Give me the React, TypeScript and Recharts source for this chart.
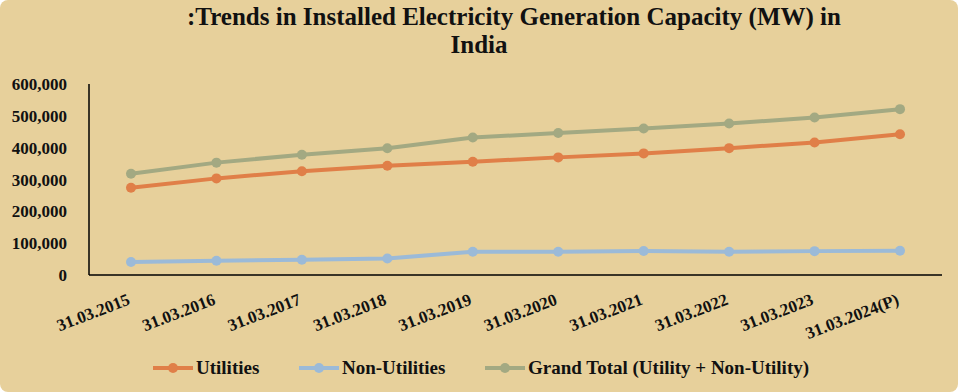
import React from 'react'
import { LineChart, Line, XAxis, YAxis } from 'recharts'

const years = [
  '31.03.2015', '31.03.2016', '31.03.2017', '31.03.2018', '31.03.2019',
  '31.03.2020', '31.03.2021', '31.03.2022', '31.03.2023', '31.03.2024(P)',
]
const utilities = [274000, 303500, 326000, 343000, 356000, 369500, 382000, 398500, 416000, 442000]
const nonUtilities = [41000, 45000, 48000, 52000, 73000, 73000, 75500, 73000, 75000, 76000]
const grandTotal = [318000, 353000, 378000, 398000, 432000, 446000, 460000, 476000, 495000, 521000]
const yTicks = [0, 100000, 200000, 300000, 400000, 500000, 600000]

const data = years.map((name, i) => ({
  name,
  utilities: utilities[i],
  nonUtilities: nonUtilities[i],
  grandTotal: grandTotal[i],
}))

const font = '"Liberation Serif", serif'
const bg = '#E7D09B'
const orange = '#E07F48'
const blue = '#9BBAD8'
const green = '#A3A982'

const XTick = (props: any) => {
  const { x, y, payload } = props
  return (
    <text
      x={x}
      y={y + 21}
      transform={`rotate(-21, ${x}, ${y + 21})`}
      textAnchor="end"
      fontFamily={font}
      fontWeight="bold"
      fontSize={17}
      fill="#111"
    >
      {payload.value}
    </text>
  )
}

const legendItems = [
  { label: 'Utilities', color: orange, x: 152 },
  { label: 'Non-Utilities', color: blue, x: 298 },
  { label: 'Grand Total (Utility + Non-Utility)', color: green, x: 484 },
]

const App = () => {
  return (
    <div style={{ position: 'absolute', left: 0, top: 0, width: 958, height: 392, background: bg, borderRadius: 8, overflow: 'hidden' }}>
      <div style={{ position: 'absolute', left: 0, width: 1028, top: 3, textAlign: 'center', fontFamily: font, fontWeight: 'bold', fontSize: 25, color: '#111', whiteSpace: 'nowrap' }}>
        :Trends in Installed Electricity Generation Capacity (MW) in
      </div>
      <div style={{ position: 'absolute', left: 0, width: 958, top: 31, textAlign: 'center', fontFamily: font, fontWeight: 'bold', fontSize: 25, color: '#111' }}>
        India
      </div>
      <div style={{ position: 'absolute', left: 0, top: 0 }}>
        <LineChart width={958} height={392} data={data} margin={{ top: 84, right: 16, left: 0, bottom: 0 }}>
          <XAxis
            dataKey="name"
            height={117}
            padding={{ left: 42, right: 42 }}
            tickLine={false}
            axisLine={{ stroke: '#000', strokeWidth: 1.5 }}
            tick={<XTick />}
            interval={0}
          />
          <YAxis
            width={89}
            domain={[0, 600000]}
            ticks={yTicks}
            tickLine={false}
            tickSize={0}
            tickMargin={22}
            axisLine={{ stroke: '#000', strokeWidth: 1.5 }}
            tickFormatter={(v: number) => v.toLocaleString('en-US')}
            tick={{ fontFamily: font, fontWeight: 'bold', fontSize: 17, fill: '#111' }}
          />
          <Line dataKey="utilities" stroke={orange} strokeWidth={4} dot={{ r: 5, fill: orange, stroke: orange, strokeWidth: 0 }} isAnimationActive={false} />
          <Line dataKey="nonUtilities" stroke={blue} strokeWidth={4} dot={{ r: 5, fill: blue, stroke: blue, strokeWidth: 0 }} isAnimationActive={false} />
          <Line dataKey="grandTotal" stroke={green} strokeWidth={4} dot={{ r: 5, fill: green, stroke: green, strokeWidth: 0 }} isAnimationActive={false} />
        </LineChart>
      </div>
      {legendItems.map((it) => (
        <div key={it.label} style={{ position: 'absolute', left: it.x, top: 357, display: 'flex', alignItems: 'center', fontFamily: font, fontWeight: 'bold', fontSize: 19, color: '#111', whiteSpace: 'nowrap' }}>
          <svg width={44} height={20}>
            <line x1={1} y1={10} x2={41} y2={10} stroke={it.color} strokeWidth={4} />
            <circle cx={21} cy={10} r={5} fill={it.color} />
          </svg>
          <span>{it.label}</span>
        </div>
      ))}
    </div>
  )
}

export default App
